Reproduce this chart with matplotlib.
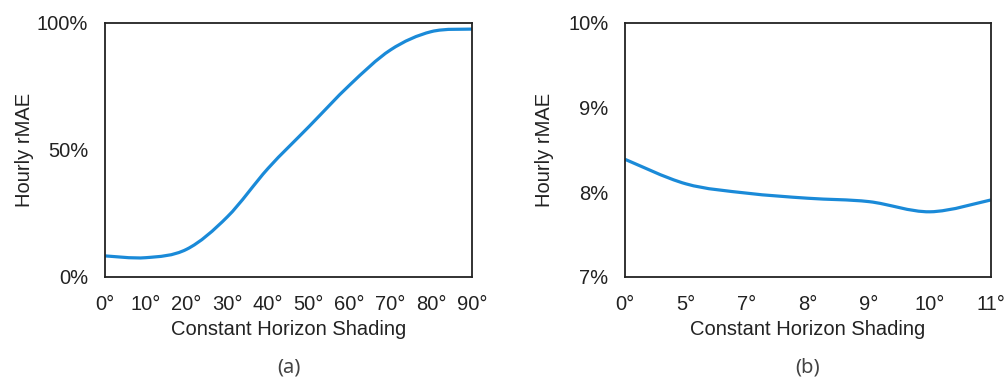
import matplotlib.pyplot as plt
from matplotlib.path import Path
from matplotlib.patches import PathPatch

# Panel (a): error vs. constant horizon shading, 0-90 deg
shade_a = ['0°', '10°', '20°', '30°', '40°', '50°', '60°', '70°', '80°', '90°']
rmae_a = [8.3, 7.6, 10.9, 23.7, 42.8, 59.2, 75.6, 89.4, 96.6, 97.6]
yticks_a = [0, 50, 100]
ylabels_a = ['0%', '50%', '100%']

# Panel (b): zoom-in on small shading angles
shade_b = ['0°', '5°', '7°', '8°', '9°', '10°', '11°']
rmae_b = [8.39, 8.10, 7.99, 7.93, 7.89, 7.77, 7.91]
yticks_b = [7, 8, 9, 10]
ylabels_b = ['7%', '8%', '9%', '10%']

LINE_COLOR = '#1a8ad8'
FONT = 'Liberation Sans'
FS = 14.5


# Excel-style smoothed line: Catmull-Rom converted to cubic bezier segments
def smooth_path(xs, ys, tension=1 / 6):
    verts = [(xs[0], ys[0])]
    codes = [Path.MOVETO]
    n = len(xs)
    for i in range(n - 1):
        x0, y0 = xs[max(i - 1, 0)], ys[max(i - 1, 0)]
        x1, y1 = xs[i], ys[i]
        x2, y2 = xs[i + 1], ys[i + 1]
        x3, y3 = xs[min(i + 2, n - 1)], ys[min(i + 2, n - 1)]
        c1 = (x1 + (x2 - x0) * tension, y1 + (y2 - y0) * tension)
        c2 = (x2 - (x3 - x1) * tension, y2 - (y3 - y1) * tension)
        verts += [c1, c2, (x2, y2)]
        codes += [Path.CURVE4] * 3
    return Path(verts, codes)


def draw_panel(ax, cats, vals, yticks, ylabels, tag, ylpad):
    xs = list(range(len(cats)))
    patch = PathPatch(smooth_path(xs, vals), facecolor='none',
                      edgecolor=LINE_COLOR, lw=2.3, capstyle='butt')
    ax.add_patch(patch)
    ax.set_xlim(xs[0], xs[-1])
    ax.set_ylim(yticks[0], yticks[-1])
    ax.set_xticks(xs)
    ax.set_xticklabels(cats, fontfamily=FONT, fontsize=FS)
    ax.set_yticks(yticks)
    ax.set_yticklabels(ylabels, fontfamily=FONT, fontsize=FS)
    ax.tick_params(length=0, pad=12, colors='#222222')
    ax.tick_params(axis='x', pad=13)
    for s in ax.spines.values():
        s.set_linewidth(1.3)
        s.set_color('#222222')
    ax.set_xlabel('Constant Horizon Shading', fontfamily=FONT, fontsize=FS,
                  color='#222222', labelpad=4)
    ax.set_ylabel('Hourly rMAE', fontfamily=FONT, fontsize=FS,
                  color='#222222', labelpad=ylpad)
    ax.text(0.5, -0.355, tag, transform=ax.transAxes, ha='center', va='center',
            fontfamily='Noto Sans', fontweight='light', fontsize=14.5,
            color='#444444')


fig = plt.figure(figsize=(10.08, 3.77), dpi=100)
ax1 = fig.add_axes([0.1042, 0.2653, 0.3641, 0.6737])
ax2 = fig.add_axes([0.6200, 0.2653, 0.3631, 0.6737])

draw_panel(ax1, shade_a, rmae_a, yticks_a, ylabels_a, '(a)', 2)
draw_panel(ax2, shade_b, rmae_b, yticks_b, ylabels_b, '(b)', 10)

fig.savefig('out.png', dpi=100)
